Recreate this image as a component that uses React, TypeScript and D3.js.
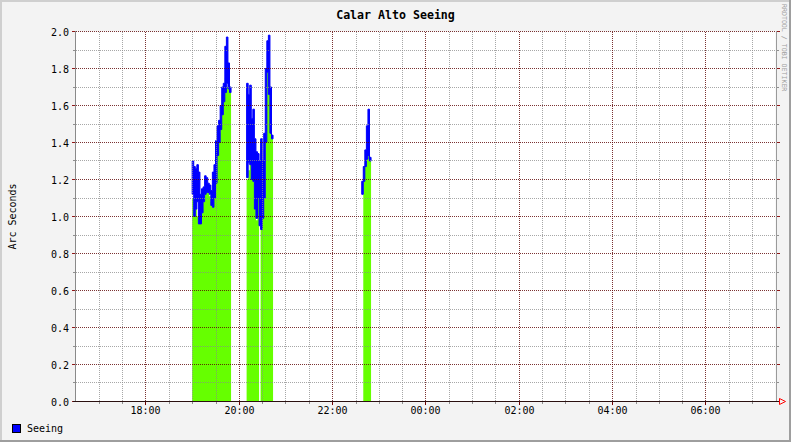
import React from "react";
import * as d3 from "d3";

const W = 791;
const H = 442;

const title = "Calar Alto Seeing";
const yLabel = "Arc Seconds";
const legendLabel = "Seeing";
const watermark = "RRDTOOL / TOBI OETIKER";

const timeStart = "16:30";
const timeEnd = "07:30";
const stepMinutes = 2;
const yMajorTicks = [0, 0.2, 0.4, 0.6, 0.8, 1.0, 1.2, 1.4, 1.6, 1.8, 2.0];
const yMinorTicks = [0.1, 0.3, 0.5, 0.7, 0.9, 1.1, 1.3, 1.5, 1.7, 1.9];
const xTickLabels = ["18:00", "20:00", "22:00", "00:00", "02:00", "04:00", "06:00"];

// segment 1
const seg1Start = "19:00";
const seg1Hi = [1.30, 1.27, 1.26, 1.28, 1.24, 1.12, 1.15, 1.16, 1.22, 1.21, 1.18, 1.17, 1.14, 1.24, 1.28, 1.41, 1.49, 1.52, 1.60, 1.70, 1.72, 1.92, 1.97, 1.83, 1.70];
const seg1Lo = [1.12, 1.00, 1.04, 1.08, 0.96, 0.96, 1.02, 1.08, 1.12, 1.13, 1.13, 1.12, 1.06, 1.05, 1.10, 1.18, 1.33, 1.40, 1.47, 1.55, 1.62, 1.67, 1.72, 1.69, 1.67];
const seg1Green = [1.10, 1.10, 1.08, 1.00, 0.96, 1.07, 1.07, 1.08, 1.14, 1.14, 1.14, 1.11, 1.08, 1.05, 1.20, 1.28, 1.35, 1.45, 1.50, 1.66, 1.68, 1.75, 1.70, 1.69, 1.68];

// segment 2
const seg2Start = "20:10";
const seg2Hi = [1.72, 1.66, 1.71, 1.53, 1.58, 1.42, 1.35, 1.34, 1.30, 1.42, 1.30, 1.45, 1.80, 1.95, 1.98, 1.70, 1.44];
const seg2Lo = [1.21, 1.29, 1.28, 1.20, 1.19, 1.04, 0.99, 1.10, 0.95, 0.93, 0.99, 1.10, 1.40, 1.78, 1.66, 1.45, 1.42];
const seg2Green = [1.20, 1.25, 1.28, 1.26, 1.19, 1.05, 0.98, 1.10, null, 0.95, 1.00, 1.10, 1.40, 1.78, 1.66, 1.50, 1.42];

// segment 3
const seg3Start = "22:38";
const seg3Hi = [1.19, 1.27, 1.36, 1.49, 1.58, 1.32];
const seg3Lo = [1.12, 1.19, 1.27, 1.31, 1.33, 1.30];
const seg3Green = [null, 1.27, 1.36, 1.31, 1.33, 1.30];

const parseT = (s: string) => {
  const [h, m] = s.split(":").map(Number);
  return new Date(2010, 0, h < 12 ? 2 : 1, h, m);
};

type Pt = { t: Date; hi: number; lo: number; g: number | null };

function expand(start: string, hi: number[], lo: number[], g: (number | null)[]): Pt[] {
  const s = parseT(start).getTime();
  const out: Pt[] = [];
  hi.forEach((v, i) => {
    const t0 = new Date(s + i * stepMinutes * 60000);
    const t1 = new Date(s + (i + 1) * stepMinutes * 60000);
    out.push({ t: t0, hi: v, lo: lo[i], g: g[i] });
    out.push({ t: t1, hi: v, lo: lo[i], g: g[i] });
  });
  return out;
}

const segments = [
  expand(seg1Start, seg1Hi, seg1Lo, seg1Green),
  expand(seg2Start, seg2Hi, seg2Lo, seg2Green),
  expand(seg3Start, seg3Hi, seg3Lo, seg3Green),
];

export default function App() {
  const x = d3.scaleTime().domain([parseT(timeStart), parseT(timeEnd)]).range([75.5, 775.5]);
  const y = d3.scaleLinear().domain([0, 2]).range([401.5, 31.5]);
  const px = (t: Date) => Math.ceil(x(t) - 0.5) + 0.5;
  const py = (v: number) => Math.floor(y(v)) + 0.5;

  const greenArea = d3
    .area<Pt>()
    .defined((d) => d.g != null)
    .x((d) => x(d.t))
    .y0(y(0) - 0.5)
    .y1((d) => y(d.g as number));
  const blueBand = d3
    .area<Pt>()
    .x((d) => x(d.t))
    .y0((d) => y(d.lo))
    .y1((d) => y(d.hi));

  const halfHours = d3.timeMinute.every(30)!.range(parseT(timeStart), parseT(timeEnd));
  const minorX = halfHours.filter((t) => !(t.getMinutes() === 0 && t.getHours() % 2 === 0) && t.getTime() !== parseT(timeStart).getTime());
  const majorX = xTickLabels.map(parseT);

  const mono = "'DejaVu Sans Mono', monospace";

  return (
    <svg width={W} height={H} style={{ position: "absolute", left: 0, top: 0 }} xmlns="http://www.w3.org/2000/svg">
      <rect x={0} y={0} width={W} height={H} fill="#f3f3f3" />
      {/* 3D frame */}
      <path d={`M0,${H} V0 H${W}`} fill="none" stroke="#cfcfcf" strokeWidth={4} />
      <path d={`M0,${H} H${W} V0`} fill="none" stroke="#9e9e9e" strokeWidth={4} />
      <rect x={75.5} y={31.5} width={700} height={370} fill="#ffffff" />

      {/* data */}
      {segments.map((seg, i) => (
        <path key={"g" + i} d={greenArea(seg) || ""} fill="#66ff00" />
      ))}
      {segments.map((seg, i) => (
        <path key={"b" + i} d={blueBand(seg) || ""} fill="#0000ff" stroke="#0000ff" strokeWidth={1} strokeLinejoin="miter" />
      ))}

      {/* grid */}
      <g shapeRendering="crispEdges">
        {yMinorTicks.map((v) => (
          <g key={"ym" + v}>
            <line x1={76} x2={775} y1={py(v)} y2={py(v)} stroke="#8a8a8a" strokeOpacity={0.75} strokeDasharray="1,1" />
            <line x1={73} x2={76} y1={py(v)} y2={py(v)} stroke="#8f8f8f" />
            <line x1={776} x2={779} y1={py(v)} y2={py(v)} stroke="#8f8f8f" />
          </g>
        ))}
        {minorX.map((t) => (
          <g key={"xm" + t.getTime()}>
            <line x1={px(t)} x2={px(t)} y1={32} y2={401} stroke="#8a8a8a" strokeOpacity={0.75} strokeDasharray="1,1" />
            <line x1={px(t)} x2={px(t)} y1={401} y2={404} stroke="#8f8f8f" />
          </g>
        ))}
        {yMajorTicks.map((v) => (
          <g key={"yM" + v}>
            <line x1={76} x2={775} y1={py(v)} y2={py(v)} stroke="#5a0000" strokeOpacity={0.8} strokeDasharray="1,1" />
            <line x1={72} x2={76} y1={py(v)} y2={py(v)} stroke="#901818" />
            <line x1={776} x2={780} y1={py(v)} y2={py(v)} stroke="#901818" />
          </g>
        ))}
        {majorX.map((t) => (
          <g key={"xM" + t.getTime()}>
            <line x1={px(t)} x2={px(t)} y1={32} y2={401} stroke="#5a0000" strokeOpacity={0.8} strokeDasharray="1,1" />
            <line x1={px(t)} x2={px(t)} y1={401} y2={405} stroke="#700000" />
          </g>
        ))}
        {/* axes */}
        <line x1={75.5} x2={75.5} y1={31} y2={402} stroke="#8a8a8a" />
        <line x1={776.5} x2={776.5} y1={31} y2={402} stroke="#9a9a9a" />
        <line x1={73} x2={779} y1={401.5} y2={401.5} stroke="#2a1010" />
      </g>
      {/* arrow */}
      <path d="M779.5,398.5 L785.5,401.5 L779.5,404.5 Z" fill="none" stroke="#ff0000" strokeWidth={1} />

      {/* y labels */}
      {yMajorTicks.map((v) => (
        <text key={"yl" + v} x={69} y={py(v) + 4} textAnchor="end" fontFamily={mono} fontSize={10} fill="#000">
          {v.toFixed(1)}
        </text>
      ))}
      {/* x labels */}
      {majorX.map((t, i) => (
        <text key={"xl" + i} x={px(t)} y={414} textAnchor="middle" fontFamily={mono} fontSize={10} fill="#000">
          {d3.timeFormat("%H:%M")(t)}
        </text>
      ))}

      {/* title */}
      <text x={395.5} y={19} textAnchor="middle" fontFamily={mono} fontWeight="bold" fontSize={11.6} fill="#000">
        {title}
      </text>
      {/* y axis label */}
      <text transform="translate(15.5,216.5) rotate(-90)" textAnchor="middle" fontFamily={mono} fontSize={10} fill="#000">
        {yLabel}
      </text>
      {/* watermark */}
      <text transform="translate(782,4) rotate(90)" textAnchor="start" fontFamily={mono} fontSize={6.6} fill="#a0a0a0">
        {watermark}
      </text>

      {/* legend */}
      <rect x={12.5} y={424.5} width={8} height={8} fill="#0000ff" stroke="#000" />
      <text x={27} y={432} fontFamily={mono} fontSize={10} fill="#000">
        {legendLabel}
      </text>
    </svg>
  );
}
